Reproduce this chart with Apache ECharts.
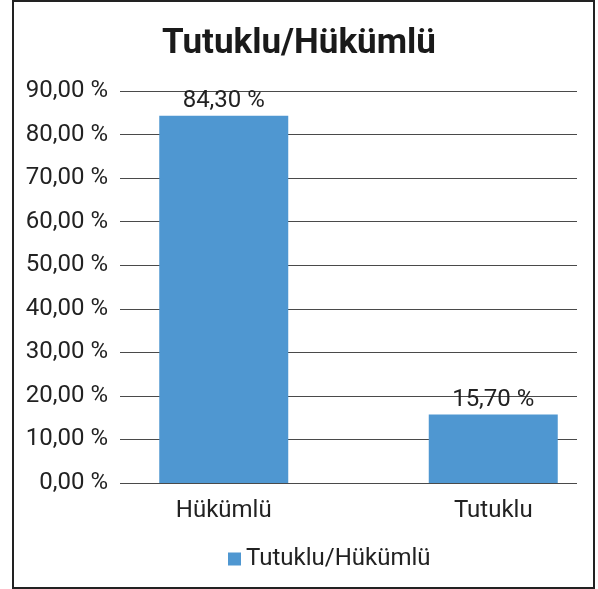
<!DOCTYPE html>
<html>
<head>
<meta charset="utf-8">
<script src="https://cdn.jsdelivr.net/npm/echarts@6/dist/echarts.min.js"></script>
<style>
html,body{margin:0;padding:0;background:#fff;}
#main{width:598px;height:589px;}
</style>
</head>
<body>
<div id="main"></div>
<script>
const titleText = 'Tutuklu/Hükümlü';
const seriesName = 'Tutuklu/Hükümlü';
const categories = ['Hükümlü', 'Tutuklu'];
const values = [84.3, 15.7];
const yMin = 0, yMax = 90, yStep = 10;

const fmt = v => v.toFixed(2).replace('.', ',') + ' %';
const FONT = 'Roboto';

const chart = echarts.init(document.getElementById('main'), null, {renderer: 'canvas'});
chart.setOption({
  animation: false,
  backgroundColor: '#fff',
  textStyle: {fontFamily: FONT},
  title: {
    text: titleText,
    left: 'center',
    top: 22,
    textStyle: {fontFamily: FONT, fontWeight: 'bold', fontSize: 35, color: '#1a1a1a'}
  },
  legend: {
    bottom: 13,
    left: 223,
    itemWidth: 13,
    itemHeight: 13,
    icon: 'rect',
    itemGap: 8,
    textStyle: {fontFamily: FONT, fontSize: 24, color: '#222'},
    data: [seriesName]
  },
  graphic: [{
    type: 'rect',
    shape: {x: 13, y: 1, width: 581, height: 587},
    style: {fill: 'none', stroke: '#222', lineWidth: 2},
    silent: true
  }],
  grid: [
    {left: 120, right: 21, top: 91, bottom: 106, outerBoundsMode: 'none'},
    {left: 89, width: 539, top: 91, bottom: 106, outerBoundsMode: 'none'}
  ],
  xAxis: [
    {gridIndex: 0, type: 'category', data: categories, show: false},
    {gridIndex: 1, type: 'category', data: categories,
     axisLine: {show: false}, axisTick: {show: false},
     axisLabel: {fontFamily: FONT, fontSize: 24, color: '#222', margin: 16}}
  ],
  yAxis: [
    {gridIndex: 0, type: 'value', min: yMin, max: yMax, interval: yStep,
     axisLine: {show: false}, axisTick: {show: false},
     axisLabel: {fontFamily: FONT, fontSize: 24, color: '#222', margin: 12, formatter: fmt},
     splitLine: {lineStyle: {color: '#4a4a4a', width: 1}}},
    {gridIndex: 1, type: 'value', min: yMin, max: yMax, interval: yStep, show: false,
     splitLine: {show: false}}
  ],
  series: [{
    name: seriesName,
    type: 'bar',
    xAxisIndex: 1,
    yAxisIndex: 1,
    data: values,
    barWidth: 129,
    itemStyle: {color: '#4F97D1'},
    label: {
      show: true,
      position: 'top',
      distance: 3,
      fontFamily: FONT,
      fontSize: 24,
      color: '#222',
      formatter: p => fmt(p.value)
    }
  }]
});
</script>
</body>
</html>
